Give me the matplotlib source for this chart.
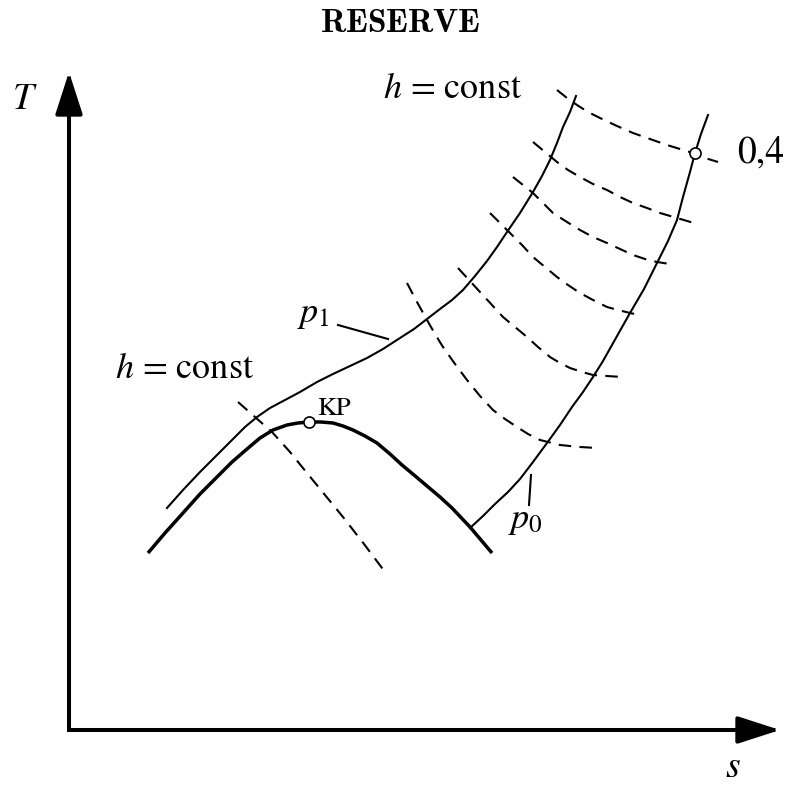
import matplotlib
matplotlib.use("Agg")
import matplotlib.pyplot as plt

plt.rcParams["font.family"] = ["STIXGeneral", "DejaVu Serif"]
plt.rcParams["mathtext.fontset"] = "stix"
plt.rcParams["lines.scale_dashes"] = False

# Saturation dome (thick), with critical point KP
dome_s = [148, 165, 183, 200, 217, 232, 247, 260, 273, 287, 298, 309, 321, 333, 343,
          353, 365, 377, 390, 402, 414, 427, 440, 452, 470, 481, 492]
dome_T = [553, 533, 513, 494, 477, 462, 449, 438, 430, 425, 423, 422, 422, 423, 426,
          430, 436, 443, 454, 465, 475, 486, 497, 508, 527, 540, 553]
kp = (309, 422)

# Isobar p1 (upper) and p0 (lower)
p1_s = [167, 183, 200, 217, 233, 245, 257, 270, 285, 300, 317, 333, 350, 367, 383, 400,
        414, 427, 440, 452, 463, 475, 487, 497, 507, 520, 533, 542, 550, 557, 563, 570, 576]
p1_T = [508, 490, 472, 455, 439, 427, 417, 408, 400, 392, 382, 374, 366, 358, 349, 338,
        329, 319, 309, 300, 290, 276, 261, 247, 232, 213, 192, 176, 160, 143, 127, 112, 96]
p0_s = [470, 483, 495, 508, 520, 533, 547, 560, 572, 583, 593, 603, 612, 621, 630, 644,
        657, 668, 677, 683, 690, 695, 701, 708]
p0_T = [528, 516, 504, 492, 479, 462, 443, 425, 407, 392, 377, 361, 345, 329, 313, 289,
        263, 241, 220, 197, 172, 153, 134, 115]
point_04 = (695, 153)

# Leader lines for the isobar labels
p1_lead_s, p1_lead_T = [338, 388], [325, 339]
p0_lead_s, p0_lead_T = [531, 529], [475, 505]

# Isenthalps h = const (dashed)
isenthalps = [
    ([557, 567, 577, 588, 600, 617, 633, 650, 667, 680, 693, 705, 718],
     [90, 98, 105, 112, 118, 126, 133, 139, 145, 149, 153, 158, 162]),
    ([533, 545, 557, 568, 580, 593, 607, 620, 633, 647, 660, 677, 694],
     [142, 152, 162, 170, 177, 184, 190, 197, 203, 208, 213, 218, 223]),
    ([513, 523, 533, 543, 553, 567, 580, 593, 607, 620, 633, 645, 657, 670],
     [177, 185, 193, 203, 213, 222, 230, 237, 243, 249, 255, 259, 262, 264]),
    ([490, 500, 510, 522, 533, 545, 557, 568, 580, 593, 607, 618, 630, 639],
     [213, 223, 233, 245, 257, 267, 277, 285, 293, 300, 307, 310, 313, 315]),
    ([458, 469, 480, 492, 503, 515, 527, 538, 550, 560, 570, 582, 593, 607, 622],
     [268, 280, 292, 305, 317, 327, 337, 347, 357, 363, 368, 372, 375, 376, 377]),
    ([407, 417, 427, 435, 443, 455, 467, 480, 493, 505, 517, 528, 540, 560, 580, 597],
     [283, 302, 320, 334, 347, 364, 380, 396, 410, 419, 427, 434, 440, 445, 447, 448]),
    ([238, 255, 272, 290, 307, 325, 343, 364, 385],
     [402, 417, 432, 452, 473, 495, 517, 544, 572]),
]

fig = plt.figure(figsize=(7.93, 7.85), dpi=100)
ax = fig.add_axes([0, 0, 1, 1])
ax.set_xlim(0, 793)
ax.set_ylim(785, 0)
ax.axis("off")

# Axes with arrowheads
arrow = dict(arrowstyle="-|>,head_length=1.3,head_width=0.42", mutation_scale=20,
             lw=2.9, color="black", shrinkA=0, shrinkB=0, capstyle="projecting")
ax.annotate("", xy=(69, 72), xytext=(69, 730), arrowprops=arrow)
ax.annotate("", xy=(780, 730), xytext=(69, 730), arrowprops=arrow)

for s, T in isenthalps:
    ax.plot(s, T, color="black", lw=1.5, dashes=(9, 6))

ax.plot(dome_s, dome_T, color="black", lw=2.5, solid_capstyle="butt")
ax.plot(p1_s, p1_T, color="black", lw=1.5)
ax.plot(p0_s, p0_T, color="black", lw=1.5)
ax.plot(p1_lead_s, p1_lead_T, color="black", lw=1.5)
ax.plot(p0_lead_s, p0_lead_T, color="black", lw=1.5)

ax.plot(*kp, "o", ms=8, mfc="white", mec="black", mew=1.2, zorder=5)
ax.plot(*point_04, "o", ms=8, mfc="white", mec="black", mew=1.2, zorder=5)

ax.text(400, 32, r"$\mathbf{RESERVE}$", math_fontfamily="cm", fontsize=24,
        ha="center", va="baseline")
ax.text(25, 100, r"$T$", fontsize=27, ha="center", va="center")
ax.text(733, 768, r"$s$", fontsize=27, ha="center", va="center")
ax.text(383, 98, r"$h$ = const", fontsize=26, ha="left", va="baseline")
ax.text(115, 378, r"$h$ = const", fontsize=26, ha="left", va="baseline")
ax.text(737, 163, "0,4", fontsize=27, ha="left", va="baseline")
ax.text(297, 322, r"$p_1$", fontsize=26, ha="left", va="baseline")
ax.text(508, 528, r"$p_0$", fontsize=26, ha="left", va="baseline")
ax.text(317, 415, "KP", fontsize=19, ha="left", va="baseline")

fig.savefig("out.png", dpi=100)
